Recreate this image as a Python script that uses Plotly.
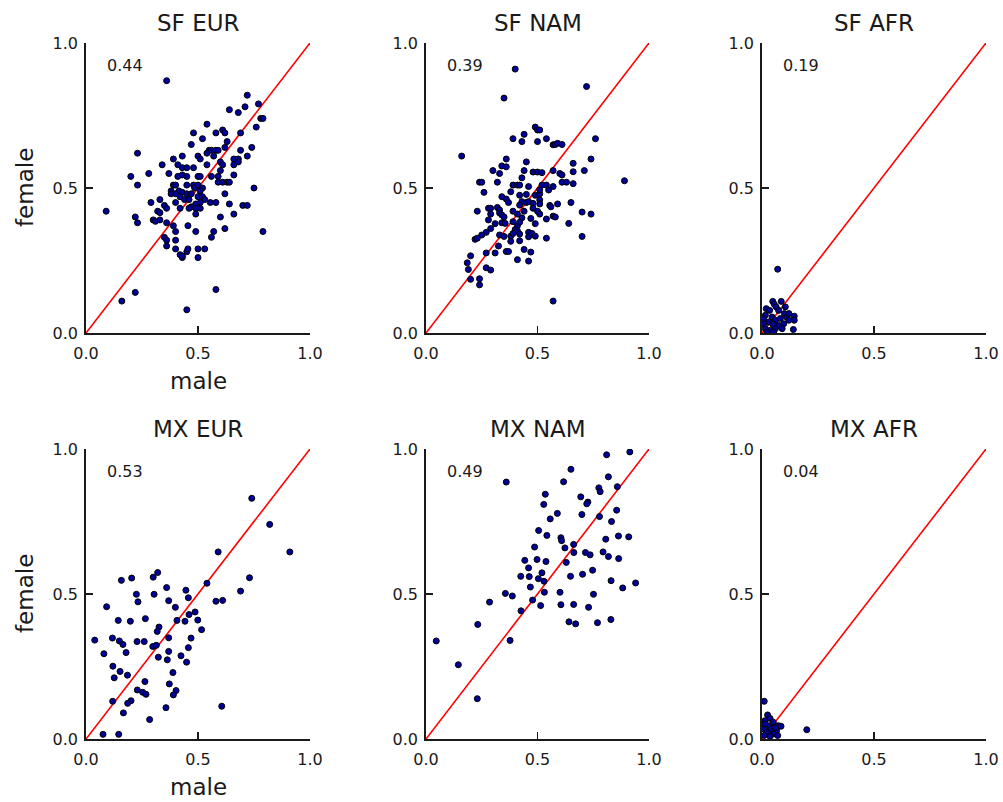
import plotly.graph_objects as go

# ---------------- data ----------------
titles = ["SF EUR", "SF NAM", "SF AFR", "MX EUR", "MX NAM", "MX AFR"]
corr_labels = ["0.44", "0.39", "0.19", "0.53", "0.49", "0.04"]
tick_vals = [0.0, 0.5, 1.0]
tick_text = ["0.0", "0.5", "1.0"]

sf_eur = [(0.36,0.87),(0.72,0.82),(0.64,0.77),(0.68,0.76),(0.71,0.78),(0.77,0.79),(0.78,0.74),(0.79,0.74),(0.76,0.71),(0.54,0.72),(0.48,0.69),(0.61,0.70),(0.58,0.69),(0.62,0.69),(0.69,0.69),(0.52,0.67),(0.63,0.66),(0.47,0.65),(0.74,0.64),(0.23,0.62),(0.55,0.63),(0.56,0.63),(0.54,0.62),(0.58,0.63),(0.59,0.63),(0.62,0.64),(0.50,0.61),(0.51,0.60),(0.57,0.61),(0.66,0.60),(0.68,0.60),(0.69,0.63),(0.72,0.61),(0.66,0.58),(0.68,0.59),(0.43,0.61),(0.39,0.60),(0.41,0.58),(0.43,0.57),(0.45,0.57),(0.48,0.57),(0.34,0.58),(0.54,0.58),(0.60,0.59),(0.61,0.58),(0.28,0.55),(0.37,0.55),(0.20,0.54),(0.23,0.51),(0.41,0.54),(0.43,0.545),(0.45,0.54),(0.50,0.54),(0.51,0.54),(0.56,0.54),(0.59,0.54),(0.60,0.56),(0.66,0.545),(0.75,0.50),(0.39,0.51),(0.40,0.51),(0.415,0.49),(0.38,0.49),(0.43,0.485),(0.45,0.51),(0.48,0.51),(0.485,0.50),(0.50,0.51),(0.52,0.50),(0.59,0.52),(0.61,0.52),(0.63,0.52),(0.64,0.52),(0.51,0.49),(0.38,0.48),(0.40,0.48),(0.42,0.47),(0.45,0.48),(0.47,0.48),(0.50,0.47),(0.52,0.47),(0.53,0.46),(0.62,0.48),(0.09,0.42),(0.29,0.45),(0.33,0.46),(0.35,0.44),(0.40,0.45),(0.44,0.46),(0.46,0.46),(0.47,0.435),(0.49,0.445),(0.51,0.45),(0.555,0.45),(0.58,0.45),(0.64,0.445),(0.70,0.44),(0.72,0.44),(0.22,0.40),(0.23,0.38),(0.32,0.42),(0.33,0.415),(0.36,0.43),(0.42,0.43),(0.46,0.43),(0.49,0.43),(0.49,0.41),(0.51,0.43),(0.60,0.40),(0.66,0.41),(0.30,0.39),(0.31,0.385),(0.33,0.39),(0.36,0.38),(0.39,0.37),(0.40,0.35),(0.455,0.37),(0.49,0.35),(0.57,0.35),(0.62,0.36),(0.79,0.35),(0.35,0.33),(0.36,0.32),(0.40,0.32),(0.56,0.33),(0.36,0.30),(0.40,0.29),(0.42,0.27),(0.43,0.26),(0.45,0.28),(0.455,0.29),(0.50,0.26),(0.50,0.29),(0.53,0.29),(0.43,0.265),(0.22,0.14),(0.16,0.11),(0.58,0.15),(0.45,0.08)]

sf_nam = [(0.40,0.91),(0.72,0.85),(0.35,0.81),(0.16,0.61),(0.89,0.525),(0.57,0.11),(0.76,0.67),(0.49,0.71),(0.50,0.70),(0.51,0.70),(0.39,0.67),(0.44,0.685),(0.43,0.66),(0.50,0.66),(0.54,0.67),(0.57,0.649),(0.58,0.65),(0.59,0.654),(0.61,0.65),(0.74,0.60),(0.66,0.585),(0.71,0.56),(0.66,0.556),(0.36,0.60),(0.34,0.576),(0.36,0.573),(0.45,0.59),(0.30,0.56),(0.33,0.55),(0.44,0.56),(0.48,0.555),(0.50,0.555),(0.52,0.553),(0.57,0.56),(0.60,0.55),(0.61,0.545),(0.43,0.535),(0.24,0.52),(0.25,0.52),(0.32,0.52),(0.39,0.51),(0.41,0.51),(0.42,0.51),(0.46,0.505),(0.52,0.51),(0.54,0.51),(0.57,0.505),(0.61,0.52),(0.63,0.52),(0.66,0.515),(0.26,0.485),(0.34,0.47),(0.38,0.487),(0.42,0.475),(0.45,0.478),(0.49,0.475),(0.51,0.48),(0.51,0.494),(0.55,0.493),(0.36,0.462),(0.37,0.45),(0.43,0.453),(0.42,0.441),(0.45,0.45),(0.46,0.453),(0.48,0.447),(0.51,0.459),(0.51,0.445),(0.555,0.44),(0.56,0.435),(0.59,0.445),(0.65,0.45),(0.23,0.42),(0.28,0.43),(0.29,0.43),(0.32,0.433),(0.33,0.424),(0.29,0.41),(0.33,0.414),(0.34,0.407),(0.35,0.40),(0.39,0.42),(0.41,0.41),(0.43,0.397),(0.44,0.42),(0.47,0.395),(0.48,0.43),(0.50,0.42),(0.51,0.41),(0.54,0.393),(0.57,0.403),(0.58,0.40),(0.70,0.417),(0.74,0.41),(0.28,0.39),(0.31,0.377),(0.34,0.38),(0.355,0.378),(0.39,0.384),(0.41,0.37),(0.42,0.382),(0.49,0.377),(0.64,0.378),(0.29,0.36),(0.27,0.347),(0.40,0.357),(0.41,0.352),(0.46,0.347),(0.25,0.338),(0.22,0.323),(0.23,0.327),(0.33,0.338),(0.35,0.333),(0.38,0.334),(0.39,0.343),(0.42,0.341),(0.46,0.332),(0.475,0.343),(0.49,0.334),(0.54,0.327),(0.70,0.333),(0.38,0.316),(0.42,0.318),(0.325,0.30),(0.36,0.281),(0.37,0.281),(0.27,0.276),(0.31,0.276),(0.44,0.288),(0.47,0.279),(0.20,0.266),(0.185,0.242),(0.19,0.219),(0.27,0.225),(0.29,0.217),(0.41,0.253),(0.46,0.248),(0.20,0.185),(0.24,0.187),(0.24,0.166)]

sf_afr = [(0.07,0.22),(0.048,0.109),(0.086,0.109),(0.055,0.099),(0.019,0.084),(0.034,0.078),(0.063,0.09),(0.074,0.078),(0.10,0.067),(0.11,0.055),(0.144,0.058),(0.144,0.044),(0.015,0.061),(0.045,0.055),(0.06,0.044),(0.082,0.05),(0.03,0.038),(0.007,0.032),(0.048,0.03),(0.074,0.026),(0.097,0.032),(0.12,0.044),(0.14,0.012),(0.015,0.015),(0.037,0.009),(0.06,0.015),(0.09,0.015),(0.022,0.003),(0.052,0.003),(0.007,0.05),(0.104,0.09),(0.12,0.067)]

mx_eur = [(0.74,0.83),(0.82,0.74),(0.91,0.645),(0.59,0.645),(0.73,0.556),(0.54,0.537),(0.69,0.51),(0.58,0.475),(0.61,0.478),(0.32,0.574),(0.30,0.558),(0.204,0.555),(0.158,0.547),(0.36,0.522),(0.225,0.499),(0.304,0.499),(0.232,0.473),(0.446,0.513),(0.457,0.487),(0.369,0.477),(0.399,0.454),(0.092,0.456),(0.487,0.438),(0.499,0.41),(0.46,0.429),(0.442,0.406),(0.406,0.409),(0.516,0.377),(0.144,0.409),(0.198,0.406),(0.265,0.415),(0.326,0.386),(0.318,0.371),(0.469,0.348),(0.039,0.341),(0.118,0.348),(0.149,0.338),(0.165,0.326),(0.228,0.336),(0.26,0.336),(0.298,0.319),(0.314,0.323),(0.369,0.349),(0.369,0.302),(0.457,0.315),(0.08,0.294),(0.179,0.298),(0.323,0.282),(0.363,0.273),(0.424,0.287),(0.449,0.265),(0.12,0.251),(0.152,0.233),(0.126,0.211),(0.185,0.22),(0.388,0.229),(0.263,0.198),(0.229,0.169),(0.253,0.161),(0.268,0.154),(0.372,0.19),(0.402,0.167),(0.39,0.152),(0.119,0.13),(0.201,0.132),(0.186,0.123),(0.167,0.09),(0.357,0.108),(0.606,0.113),(0.284,0.067),(0.076,0.016),(0.146,0.016)]

mx_nam = [(0.81,0.98),(0.914,0.99),(0.65,0.93),(0.36,0.886),(0.617,0.887),(0.818,0.904),(0.775,0.866),(0.781,0.853),(0.858,0.87),(0.535,0.844),(0.694,0.835),(0.726,0.817),(0.721,0.811),(0.528,0.809),(0.855,0.789),(0.589,0.778),(0.699,0.774),(0.557,0.759),(0.778,0.767),(0.832,0.75),(0.505,0.719),(0.542,0.702),(0.605,0.694),(0.608,0.684),(0.806,0.689),(0.863,0.70),(0.909,0.697),(0.662,0.671),(0.623,0.659),(0.487,0.662),(0.663,0.643),(0.715,0.643),(0.736,0.635),(0.794,0.645),(0.818,0.629),(0.864,0.622),(0.443,0.616),(0.498,0.619),(0.538,0.612),(0.629,0.609),(0.46,0.59),(0.52,0.573),(0.425,0.561),(0.463,0.56),(0.504,0.553),(0.529,0.544),(0.648,0.561),(0.702,0.568),(0.747,0.582),(0.83,0.546),(0.94,0.538),(0.882,0.521),(0.468,0.524),(0.356,0.502),(0.387,0.493),(0.531,0.506),(0.601,0.506),(0.751,0.499),(0.285,0.472),(0.478,0.479),(0.514,0.46),(0.605,0.463),(0.662,0.464),(0.729,0.454),(0.426,0.442),(0.641,0.404),(0.671,0.397),(0.769,0.401),(0.829,0.412),(0.232,0.395),(0.377,0.34),(0.046,0.338),(0.145,0.256),(0.23,0.139)]

mx_afr = [(0.01,0.13),(0.20,0.032),(0.025,0.083),(0.036,0.071),(0.013,0.063),(0.05,0.058),(0.073,0.046),(0.085,0.044),(0.028,0.046),(0.006,0.035),(0.043,0.035),(0.065,0.029),(0.021,0.023),(0.05,0.017),(0.07,0.012),(0.01,0.012),(0.036,0.009),(0.013,0.052),(0.058,0.04)]

panels = [sf_eur, sf_nam, sf_afr, mx_eur, mx_nam, mx_afr]

# ---------------- layout geometry ----------------
W, H = 1003, 802
col_px = [(86, 310), (426, 649), (762, 986)]
row_px = [(43, 333), (449, 739)]
FONT = "DejaVu Sans"
INK = "#1a1a1a"

fig = go.Figure()
layout = dict(
    template="none",
    width=W, height=H, margin=dict(l=0, r=0, t=0, b=0, pad=0, autoexpand=False),
    paper_bgcolor="white", plot_bgcolor="white", showlegend=False,
    font=dict(family=FONT, color="black"), hovermode=False,
)
annotations = []

for i, pts in enumerate(panels):
    r, c = divmod(i, 3)
    n = i + 1
    xa = "x" if n == 1 else f"x{n}"
    ya = "y" if n == 1 else f"y{n}"
    x0, x1 = col_px[c]
    y0, y1 = row_px[r]
    axis_common = dict(
        range=[0, 1], showgrid=False, zeroline=False, showline=True,
        linecolor=INK, linewidth=1.8, ticks="inside", ticklen=7,
        tickwidth=1.3, tickcolor=INK, tickvals=tick_vals, ticktext=tick_text,
        tickfont=dict(family=FONT, size=16, color=INK), mirror=False,
        fixedrange=True, automargin=False, ticklabeloverflow="allow",
    )
    layout["xaxis" if n == 1 else f"xaxis{n}"] = dict(
        axis_common, domain=[x0 / W, x1 / W], anchor=ya, ticklabelstandoff=5)
    layout["yaxis" if n == 1 else f"yaxis{n}"] = dict(
        axis_common, domain=[1 - y1 / H, 1 - y0 / H], anchor=xa, ticklabelstandoff=3)

    # diagonal line
    fig.add_trace(go.Scatter(x=[0, 1], y=[0, 1], mode="lines",
                             line=dict(color="#ff0000", width=1.6),
                             xaxis=xa, yaxis=ya, hoverinfo="skip"))
    fig.add_trace(go.Scatter(
        x=[p[0] for p in pts], y=[p[1] for p in pts], mode="markers",
        marker=dict(size=6, color="#00009a", line=dict(color="black", width=1)),
        xaxis=xa, yaxis=ya))

    # correlation label
    annotations.append(dict(x=0.1, y=0.895, xref=xa, yref=ya, text=corr_labels[i],
                            showarrow=False, xanchor="left", yanchor="bottom",
                            xshift=-3, yshift=-4,
                            font=dict(family=FONT, size=16, color=INK)))
    # title
    annotations.append(dict(x=(x0 + x1) / 2 / W, y=1 - y0 / H, xref="paper", yref="paper",
                            text=titles[i], showarrow=False, xanchor="center",
                            yanchor="bottom", yshift=5,
                            font=dict(family=FONT, size=23, color=INK)))

# axis labels for first column
for r in range(2):
    y0, y1 = row_px[r]
    annotations.append(dict(x=25 / W, y=1 - (y0 + y1) / 2 / H, xref="paper", yref="paper",
                            text="female", textangle=-90, showarrow=False,
                            xanchor="center", yanchor="middle",
                            font=dict(family=FONT, size=23, color=INK)))
    annotations.append(dict(x=(col_px[0][0] + col_px[0][1]) / 2 / W, y=1 - (y1 + 48) / H,
                            xref="paper", yref="paper", text="male", showarrow=False,
                            xanchor="center", yanchor="middle",
                            font=dict(family=FONT, size=23, color=INK)))

layout["annotations"] = annotations
fig.update_layout(**layout)
fig.write_html(
    "out.html",
    config={"displayModeBar": False, "staticPlot": True},
    post_script="document.body.style.margin='0';document.body.style.overflow='hidden';",
)
